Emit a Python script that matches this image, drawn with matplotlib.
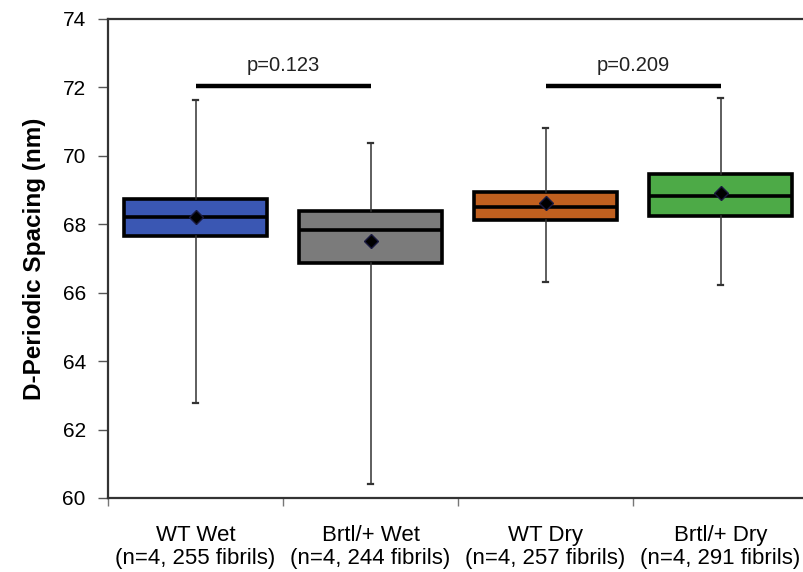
import matplotlib
matplotlib.use("Agg")
import matplotlib.pyplot as plt

plt.rcParams['font.family'] = ['Liberation Sans', 'DejaVu Sans']

# data
groups = ["WT Wet", "Brtl/+ Wet", "WT Dry", "Brtl/+ Dry"]
counts = ["(n=4, 255 fibrils)", "(n=4, 244 fibrils)", "(n=4, 257 fibrils)", "(n=4, 291 fibrils)"]
whislo = [62.78, 60.41, 66.31, 66.23]
q1 = [67.66, 66.87, 68.13, 68.24]
med = [68.21, 67.83, 68.51, 68.83]
q3 = [68.74, 68.39, 68.94, 69.47]
whishi = [71.62, 70.38, 70.82, 71.69]
means = [68.20, 67.50, 68.62, 68.91]
colors = ["#3a57b3", "#7b7b7b", "#c0601f", "#4daa47"]

# significance brackets
pairs = [(0, 1), (2, 3)]
pvals = ["p=0.123", "p=0.209"]
bar_y = 72.05

stats = []
for i in range(len(groups)):
    stats.append(dict(whislo=whislo[i], q1=q1[i], med=med[i], q3=q3[i],
                      whishi=whishi[i], mean=means[i], fliers=[]))

fig = plt.figure(figsize=(8.04, 5.72), dpi=100)
ax = fig.add_axes([108/804, 1 - 498/572, 700/804, 479/572])

pos = list(range(len(groups)))
bp = ax.bxp(stats, positions=pos, widths=0.82, patch_artist=True, showmeans=True,
            boxprops=dict(edgecolor="black", linewidth=2.6),
            medianprops=dict(color="black", linewidth=2.6),
            whiskerprops=dict(color="#333333", linewidth=1.1),
            capprops=dict(color="#333333", linewidth=1.6),
            capwidths=0.025,
            meanprops=dict(marker="D", markerfacecolor="black", markeredgecolor="#1a1a40",
                           markersize=7))
for patch, c in zip(bp["boxes"], colors):
    patch.set_facecolor(c)
    patch.set_zorder(2)

for (a, b), p in zip(pairs, pvals):
    ax.plot([pos[a], pos[b]], [bar_y, bar_y], color="black", linewidth=3.2, solid_capstyle="butt")
    ax.text((pos[a] + pos[b]) / 2, bar_y + 0.32, p, ha="center", va="bottom",
            fontsize=14.5, color="#222222")

ax.set_xlim(-0.5, len(groups) - 0.5)
ax.set_ylim(60, 74)
ax.set_yticks(range(60, 75, 2))
ax.tick_params(axis="y", labelsize=15, length=7, width=1, direction="out", colors="#555555",
               labelcolor="black", pad=9)
ax.set_xticks([p - 0.5 for p in pos] + [len(groups) - 0.5])
ax.set_xticklabels([])
ax.tick_params(axis="x", length=6, width=1, direction="out", colors="#777777")
for i, (g, n) in enumerate(zip(groups, counts)):
    ax.text(pos[i], 59.2, g + "\n" + n, ha="center", va="top",
            fontsize=16, linespacing=1.12)

ax.set_ylabel("D-Periodic Spacing (nm)", fontsize=17.5, fontweight="bold", labelpad=12)
for s in ["top", "left", "bottom"]:
    ax.spines[s].set_linewidth(1.6)
    ax.spines[s].set_color("#333333")
ax.spines["right"].set_visible(False)

fig.savefig("out.png", dpi=100)
